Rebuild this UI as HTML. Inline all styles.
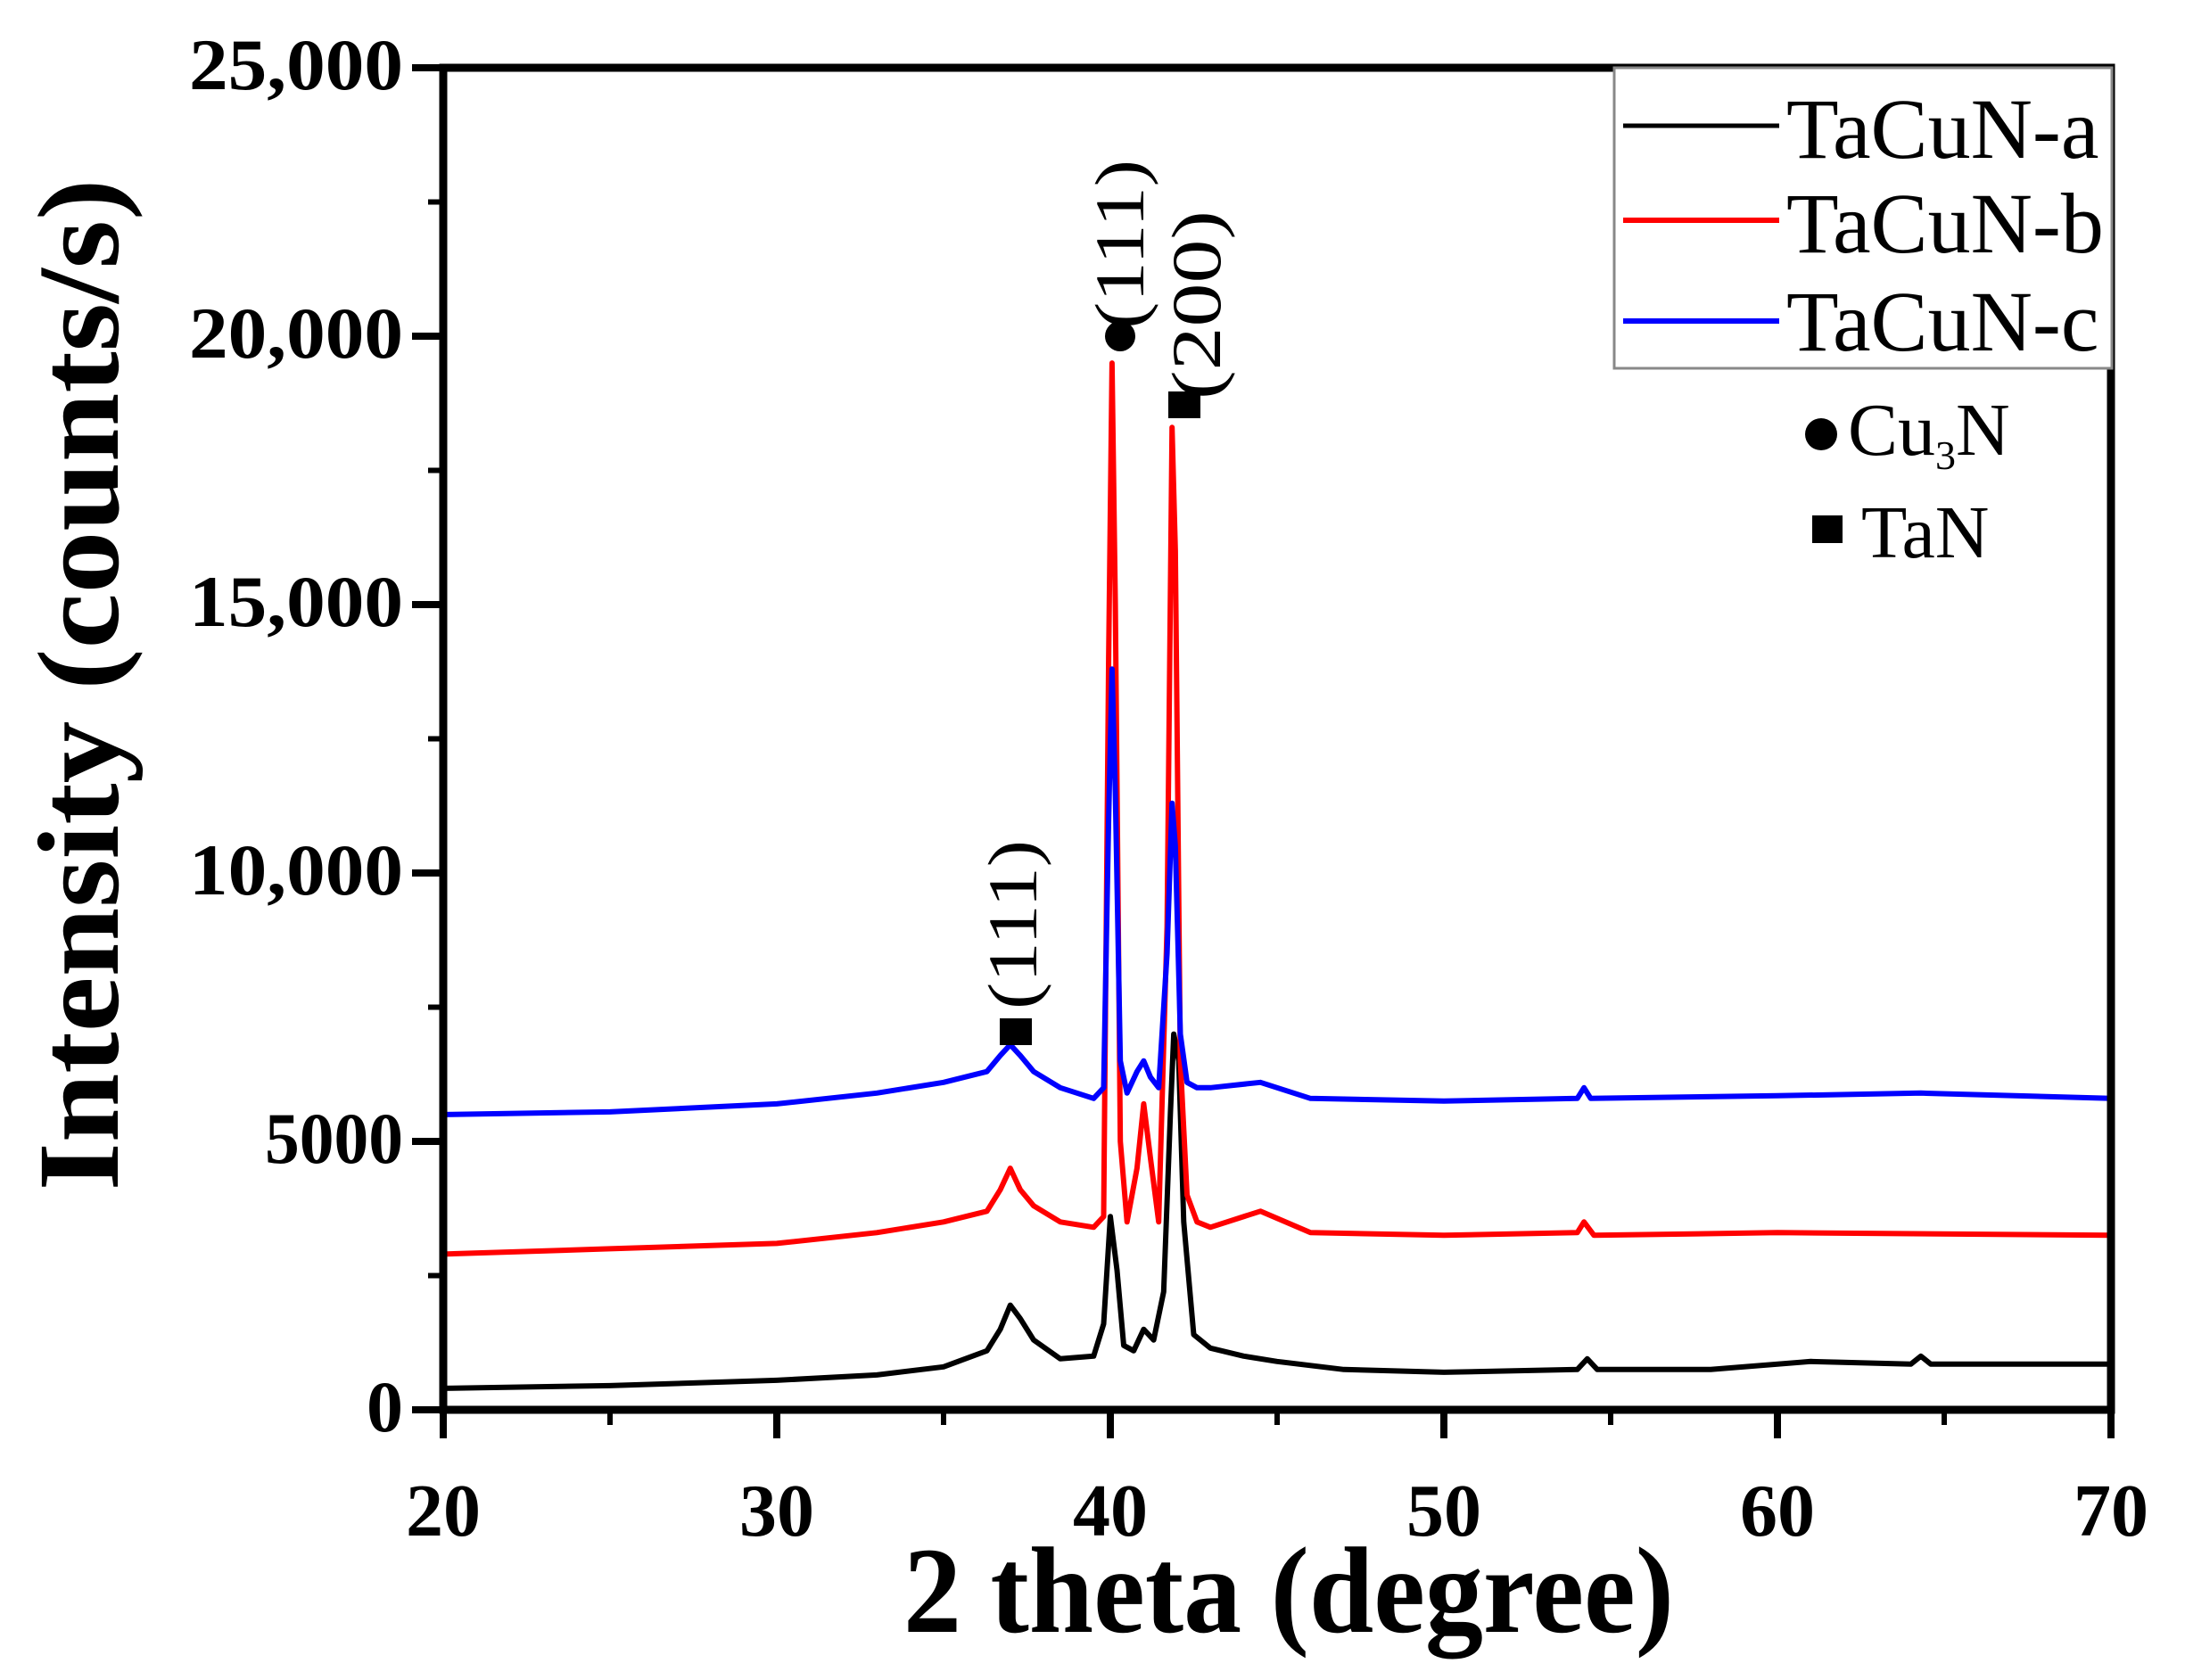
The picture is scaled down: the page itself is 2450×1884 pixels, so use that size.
<!DOCTYPE html>
<html><head><meta charset="utf-8"><style>
html,body{margin:0;padding:0;background:#fff;}
svg{display:block;font-family:"Liberation Serif","Times New Roman",serif;}
</style></head><body>
<svg id="chart" width="2450" height="1884" viewBox="0 0 2450 1884" xmlns="http://www.w3.org/2000/svg">
<g id="plot"></g>
<g id="axes"></g>
<g id="legend">
  <rect x="1810" y="76" width="558" height="337" fill="#fff" stroke="#888" stroke-width="3"/>
  <line x1="1820" y1="141" x2="1995" y2="141" stroke="#000" stroke-width="5"/>
  <text x="2003" y="177" font-size="96">TaCuN-a</text>
  <line x1="1820" y1="247" x2="1995" y2="247" stroke="#ff0000" stroke-width="6"/>
  <text x="2003" y="283" font-size="96">TaCuN-b</text>
  <line x1="1820" y1="360" x2="1995" y2="360" stroke="#0000ff" stroke-width="6"/>
  <text x="2003" y="393" font-size="96">TaCuN-c</text>
  <circle cx="2042" cy="487" r="18" fill="#000"/>
  <text x="2072" y="510" font-size="84">Cu<tspan font-size="46" dy="16">3</tspan><tspan dy="-16">N</tspan></text>
  <rect x="2032" y="578" width="34" height="31" fill="#000"/>
  <text x="2087" y="625" font-size="84">TaN</text>
</g>
<g id="annot">
  <rect x="1121" y="1142" width="36" height="30" fill="#000"/>
  <text transform="translate(1162,1132) rotate(-90)" font-size="78" textLength="190" lengthAdjust="spacingAndGlyphs">(111)</text>
  <circle cx="1256" cy="377" r="17" fill="#000"/>
  <text transform="translate(1282,369) rotate(-90)" font-size="78" textLength="190" lengthAdjust="spacingAndGlyphs">(111)</text>
  <rect x="1310" y="439" width="36" height="30" fill="#000"/>
  <text transform="translate(1368,448) rotate(-90)" font-size="78" textLength="212" lengthAdjust="spacingAndGlyphs">(200)</text>
</g>
<text x="1445" y="1830" font-size="138" font-weight="bold" text-anchor="middle" textLength="864" lengthAdjust="spacingAndGlyphs">2 theta (degree)</text>
<text transform="translate(132,768) rotate(-90)" font-size="130" font-weight="bold" text-anchor="middle" textLength="1135" lengthAdjust="spacingAndGlyphs">Intensity (counts/s)</text>
</svg>
<script>
const xTicks = [20, 30, 40, 50, 60, 70];
const xMinor = [25, 35, 45, 55, 65];
const yTicks = [0, 5000, 10000, 15000, 20000, 25000];
const yTickLabels = ["0", "5000", "10,000", "15,000", "20,000", "25,000"];
const yMinor = [2500, 7500, 12500, 17500, 22500];

const thetaA = [20,25,30,33,35,36.3,36.7,37,37.3,37.7,38.5,39.5,39.8,40,40.2,40.4,40.7,41,41.3,41.6,41.8,41.9,42.05,42.2,42.5,43,44,45,47,50,54,54.3,54.6,58,61,64,64.3,64.6,70];
const intenA = [400,450,550,650,800,1100,1500,1950,1700,1300,950,1000,1600,3600,2600,1200,1100,1500,1300,2200,5500,7000,6500,3500,1400,1150,1000,900,750,700,750,950,750,750,900,850,1000,850,850];

const thetaB = [20,25,30,33,35,36.3,36.7,37,37.3,37.7,38.5,39.5,39.8,39.95,40.05,40.15,40.3,40.5,40.8,41,41.2,41.45,41.7,41.85,41.95,42.1,42.3,42.6,43,44.5,46,50,54,54.2,54.5,60,70];
const intenB = [2900,3000,3100,3300,3500,3700,4100,4500,4100,3800,3500,3400,3600,14000,19500,15000,5000,3500,4500,5700,4700,3500,9000,18300,16000,6500,4000,3500,3400,3700,3300,3250,3300,3500,3250,3300,3250];

const thetaC = [20,25,30,33,35,36.3,36.7,37,37.3,37.7,38.5,39.5,39.8,39.95,40.05,40.15,40.3,40.5,40.8,41,41.2,41.45,41.7,41.85,41.95,42.1,42.3,42.6,43,44.5,46,50,54,54.2,54.4,60,64.3,70];
const intenC = [5500,5550,5700,5900,6100,6300,6600,6800,6600,6300,6000,5800,6000,11000,13800,11500,6500,5900,6300,6500,6200,6000,8500,11300,10500,7000,6100,6000,6000,6100,5800,5750,5800,6000,5800,5850,5900,5800];

const X0 = 497, X1 = 2367, Y0 = 1581, Y1 = 76;
const xs = t => X0 + (t - 20) / 50 * (X1 - X0);
const ys = v => Y0 - v / 25000 * (Y0 - Y1);
const NS = "http://www.w3.org/2000/svg";
function mk(tag, attrs, parent) {
  const e = document.createElementNS(NS, tag);
  for (const k in attrs) e.setAttribute(k, attrs[k]);
  parent.appendChild(e);
  return e;
}
const plot = document.getElementById('plot');
const axes = document.getElementById('axes');

function drawSeries(th, iv, color, name) {
  const pts = th.map((t, i) => xs(t).toFixed(1) + ',' + ys(iv[i]).toFixed(1)).join(' ');
  const pl = mk('polyline', {points: pts, fill: 'none', stroke: color, 'stroke-width': 6, 'stroke-linejoin': 'round'}, plot);
  
  
}
drawSeries(thetaA, intenA, '#000000', 'series-tacun-a');
drawSeries(thetaB, intenB, '#ff0000', 'series-tacun-b');
drawSeries(thetaC, intenC, '#0000ff', 'series-tacun-c');

const frame = mk('rect', {x: X0, y: Y1, width: X1 - X0, height: Y0 - Y1, fill: 'none', stroke: '#000', 'stroke-width': 9}, axes);



xTicks.forEach(t => {
  const l = mk('line', {x1: xs(t), x2: xs(t), y1: Y0, y2: Y0 + 32, stroke: '#000', 'stroke-width': 8}, axes);
  
  
  const tx = mk('text', {x: xs(t), y: 1722, 'font-size': 84, 'font-weight': 'bold', 'text-anchor': 'middle'}, axes);
  tx.textContent = String(t);
  
  
});
xMinor.forEach(t => {
  const l = mk('line', {x1: xs(t), x2: xs(t), y1: Y0, y2: Y0 + 17, stroke: '#000', 'stroke-width': 6}, axes);
  
  
});
yTicks.forEach((v, i) => {
  const l = mk('line', {x1: X0 - 35, x2: X0, y1: ys(v), y2: ys(v), stroke: '#000', 'stroke-width': 8}, axes);
  
  
  const lab = yTickLabels[i];
  const attrs = {x: 452, y: ys(v) + 24, 'font-size': 82, 'font-weight': 'bold', 'text-anchor': 'end'};
  if (lab.length === 6) { attrs.textLength = 240; attrs.lengthAdjust = 'spacingAndGlyphs'; }
  if (lab.length === 4) { attrs.textLength = 155; attrs.lengthAdjust = 'spacingAndGlyphs'; }
  const tx = mk('text', attrs, axes);
  tx.textContent = lab;
  
  
});
yMinor.forEach(v => {
  const l = mk('line', {x1: X0 - 17, x2: X0, y1: ys(v), y2: ys(v), stroke: '#000', 'stroke-width': 6}, axes);
  
  
});
</script>
</body></html>
